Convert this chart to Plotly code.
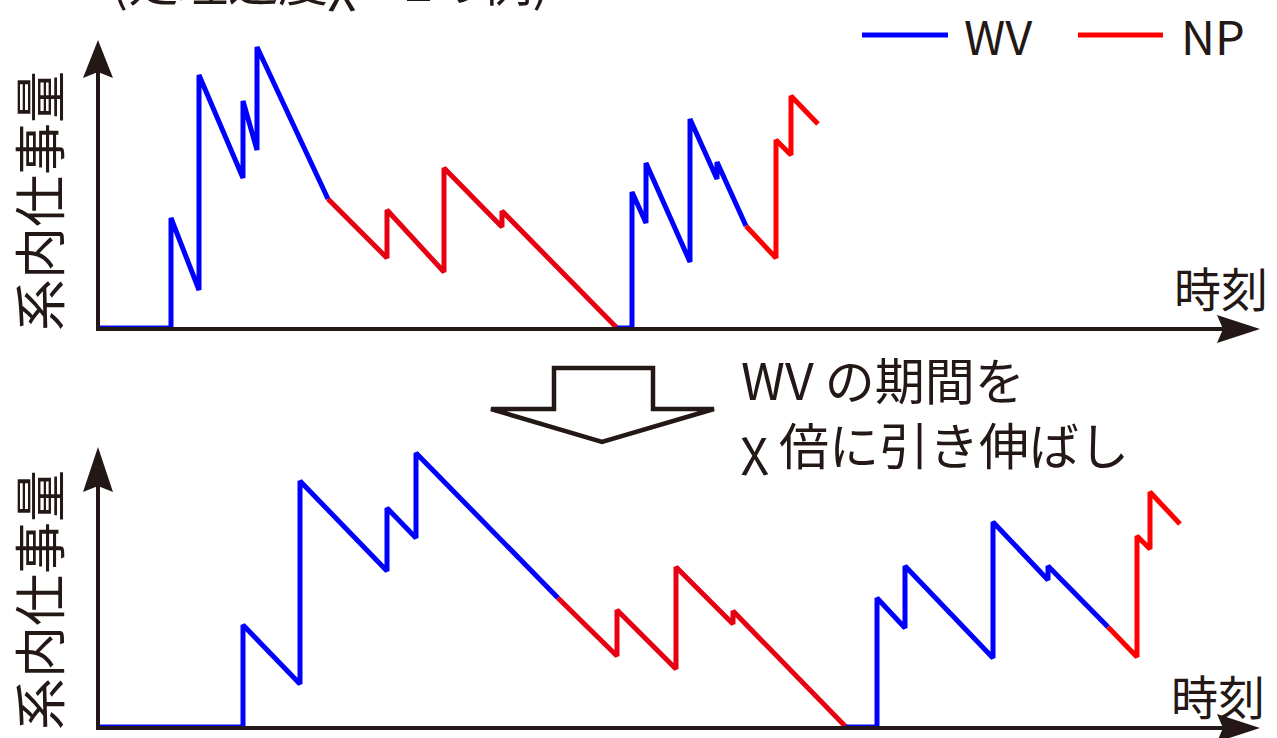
import plotly.graph_objects as go

W, H = 1277, 738
INK = "#231815"
BLUE = "#0000FF"
RED_DARK = "#E60012"
RED = "#FF0000"
FONT = "Noto Sans CJK JP"

# ---- data: time (t) and work in system (w), top panel (original) ----
top_wv1_t = [0, 73, 73, 101, 101, 145, 145, 159, 159, 230]
top_wv1_w = [0, 0, 110, 38, 253, 150, 227, 178, 281, 129]
top_np1_t = [230, 289, 289, 346, 346, 404, 404, 519]
top_np1_w = [129, 70, 118, 56, 160, 101, 117, 0]
top_wv2_t = [519, 534, 534, 548, 548, 592, 592, 619, 619, 648]
top_wv2_w = [0, 0, 136, 105, 165, 66, 209, 149, 166, 102]
top_np2_t = [648, 678, 678, 693, 693, 720]
top_np2_w = [102, 70, 188, 173, 232, 204]

# ---- bottom panel (WV periods stretched chi times) ----
bot_wv1_t = [0, 145, 145, 202, 202, 289, 289, 318, 318, 460]
bot_wv1_w = [0, 0, 102, 43, 246, 156, 219, 189, 274, 129]
bot_np1_t = [460, 519, 519, 578, 578, 635, 635, 748]
bot_np1_w = [129, 71, 117, 58, 160, 103, 116, 0]
bot_wv2_t = [748, 779, 779, 807, 807, 895, 895, 950, 950, 1010]
bot_wv2_w = [0, 0, 129, 99, 161, 69, 205, 147, 161, 100]
bot_np2_t = [1010, 1039, 1039, 1052, 1052, 1082]
bot_np2_w = [100, 70, 191, 178, 235, 203]

legend_labels = ["WV", "NP"]
y_label = "系内仕事量"
x_label = "時刻"
title_text = "(処理速度χ = 2の例)"
note_lines = ["WV の期間を", "χ 倍に引き伸ばし"]


def px(x):
    return x / W


def py(y):
    return 1 - y / H


fig = go.Figure()

segments = [
    ("x", "y", top_wv1_t, top_wv1_w, BLUE),
    ("x", "y", top_np1_t, top_np1_w, RED_DARK),
    ("x", "y", top_wv2_t, top_wv2_w, BLUE),
    ("x", "y", top_np2_t, top_np2_w, RED),
    ("x2", "y2", bot_wv1_t, bot_wv1_w, BLUE),
    ("x2", "y2", bot_np1_t, bot_np1_w, RED_DARK),
    ("x2", "y2", bot_wv2_t, bot_wv2_w, BLUE),
    ("x2", "y2", bot_np2_t, bot_np2_w, RED),
]
for xa, ya, t, w, c in segments:
    fig.add_trace(go.Scatter(x=t, y=w, xaxis=xa, yaxis=ya, mode="lines",
                             line=dict(color=c, width=5), showlegend=False,
                             hoverinfo="skip"))

shapes = []
annotations = []

# axes with arrowheads for each panel
for xr, yr, ytip, ywing, ynotch in [("x", "y", 288, 250, 256), ("x2", "y2", 280, 235, 241)]:
    shapes.append(dict(type="line", xref=xr, yref=yr, x0=0, y0=-1, x1=0, y1=ynotch,
                       line=dict(color=INK, width=4)))
    shapes.append(dict(type="path", xref=xr, yref=yr,
                       path=f"M 0 {ytip} L 15 {ywing} L 0 {ynotch} L -15 {ywing} Z",
                       fillcolor=INK, line=dict(color=INK, width=0)))
    shapes.append(dict(type="line", xref=xr, yref=yr, x0=-2, y0=-1, x1=1126, y1=-1,
                       line=dict(color=INK, width=4)))
    shapes.append(dict(type="path", xref=xr, yref=yr,
                       path="M 1162 -1 L 1119 13 L 1125 -1 L 1119 -15 Z",
                       fillcolor=INK, line=dict(color=INK, width=0)))

# hollow down arrow between panels
arrow_pts = [(554, 368), (653, 368), (653, 409), (714, 409), (602, 442), (491, 409), (554, 409)]
path = "M " + " L ".join(f"{px(a):.5f} {py(b):.5f}" for a, b in arrow_pts) + " Z"
shapes.append(dict(type="path", xref="paper", yref="paper", path=path,
                   line=dict(color=INK, width=4.5), fillcolor="rgba(0,0,0,0)"))

# custom legend
shapes.append(dict(type="line", xref="paper", yref="paper", x0=px(862), x1=px(948),
                   y0=py(35), y1=py(35), line=dict(color=BLUE, width=5)))
shapes.append(dict(type="line", xref="paper", yref="paper", x0=px(1078), x1=px(1163),
                   y0=py(35), y1=py(35), line=dict(color=RED, width=5)))


def text(s, x, y, size=48, xanchor="center", yanchor="middle", angle=0, align="center"):
    annotations.append(dict(text=s, x=px(x), y=py(y), xref="paper", yref="paper",
                            xanchor=xanchor, yanchor=yanchor, showarrow=False, align=align,
                            textangle=angle, font=dict(family=FONT, size=size, color=INK)))


text(legend_labels[0], 962, 35, 47, xanchor="left")
text(legend_labels[1], 1179, 35, 47, xanchor="left")
text(y_label, 37, 201, 52, angle=-90)
text(y_label, 37, 600, 52, angle=-90)
text(x_label, 1221, 287, 47)
text(x_label, 1218, 694, 47)
text(note_lines[0], 739, 378, 50, xanchor="left")
text(note_lines[1], 739, 443, 50, xanchor="left")
text(title_text, 552, 17, 50, xanchor="right", yanchor="bottom")

fig.update_layout(
    width=W, height=H,
    margin=dict(l=0, r=0, t=0, b=0),
    paper_bgcolor="white", plot_bgcolor="white",
    xaxis=dict(domain=[0, 1], range=[-98, W - 98], visible=False, fixedrange=True),
    yaxis=dict(domain=[0.5, 1], range=[-41, 328], visible=False, fixedrange=True),
    xaxis2=dict(domain=[0, 1], range=[-98, W - 98], visible=False, fixedrange=True, anchor="y2"),
    yaxis2=dict(domain=[0, 0.5], range=[-11, 358], visible=False, fixedrange=True, anchor="x2"),
    shapes=shapes,
    annotations=annotations,
    showlegend=False,
)

fig.write_html("out.html", config={"displayModeBar": False},
               post_script="document.body.style.margin='0';document.body.style.overflow='hidden';")
